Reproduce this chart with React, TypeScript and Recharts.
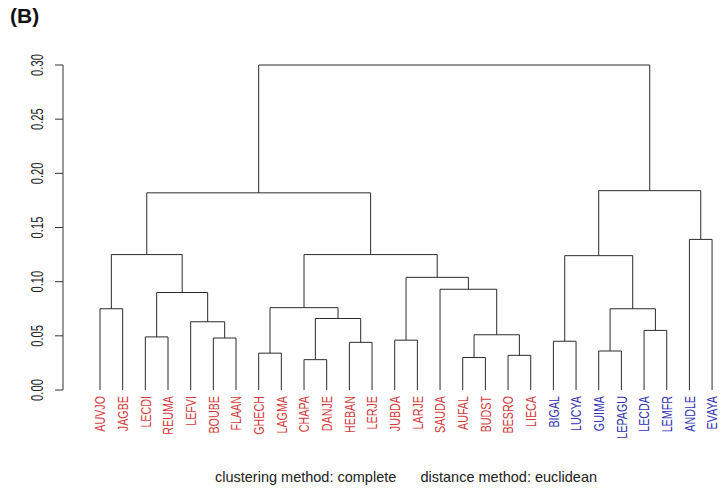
import { ComposedChart, Line, XAxis, YAxis } from 'recharts';

// leaves in dendrogram order
const leafLabels = [
  'AUVJO', 'JAGBE', 'LECDI', 'REUMA', 'LEFVI', 'BOUBE', 'FLAAN', 'GHECH', 'LAGMA', 'CHAPA',
  'DANJE', 'HEBAN', 'LERJE', 'JUBDA', 'LARJE', 'SAUDA', 'AUFAL', 'BUDST', 'BESRO', 'LIECA',
  'BIGAL', 'LUCYA', 'GUIMA', 'LEPAGU', 'LECDA', 'LEMFR', 'ANDLE', 'EVAYA',
];
const leafGroup = [
  1, 1, 1, 1, 1, 1, 1, 1, 1, 1, 1, 1, 1, 1, 1, 1, 1, 1, 1, 1,
  2, 2, 2, 2, 2, 2, 2, 2,
];
// hclust-style merge table: negative = leaf (1-based), positive = earlier merge (1-based)
const mergeLeft = [-1, -3, -6, -5, 2, 1, -8, -10, -12, 8, 7, -14, -17, -19, 13, -16, 12, 11, 6, -21, -23, -25, 21, 20, -27, 24, 19];
const mergeRight = [-2, -4, -7, 3, 4, 5, -9, -11, -13, 9, 10, -15, -18, -20, 14, 15, 16, 17, 18, -22, -24, -26, 22, 23, -28, 25, 26];
const mergeHeight = [
  0.075, 0.049, 0.048, 0.063, 0.09, 0.125, 0.034, 0.028, 0.044, 0.066, 0.076, 0.046, 0.03, 0.032,
  0.051, 0.093, 0.104, 0.125, 0.182, 0.045, 0.036, 0.055, 0.075, 0.124, 0.139, 0.184, 0.3,
];
const yTicks = [0, 0.05, 0.1, 0.15, 0.2, 0.25, 0.3];

const groupColor: Record<number, string> = { 1: '#d23a3a', 2: '#3030b0' };
const lineColor = '#2b2b2b';

type Pt = { x: number; y: number };

function buildSegments() {
  const mx: number[] = [];
  const segs: Pt[][] = [];
  const at = (i: number) => (i < 0 ? { x: -i, h: 0 } : { x: mx[i - 1], h: mergeHeight[i - 1] });
  mergeHeight.forEach((h, k) => {
    const a = at(mergeLeft[k]);
    const b = at(mergeRight[k]);
    mx.push((a.x + b.x) / 2);
    segs.push([
      { x: a.x, y: a.h },
      { x: a.x, y: h },
      { x: b.x, y: h },
      { x: b.x, y: b.h },
    ]);
  });
  return segs;
}

const segments = buildSegments();

// eslint-disable-next-line @typescript-eslint/no-explicit-any
const LeafTick = (props: any) => {
  const { x, payload } = props;
  const idx = payload.value - 1;
  return (
    <text
      transform={`translate(${x},396) rotate(-90) scale(0.74,1)`}
      textAnchor="end"
      dy="0.36em"
      fontSize={14.5}
      fontFamily="'Liberation Sans', Arial, sans-serif"
      fill={groupColor[leafGroup[idx]]}
    >
      {leafLabels[idx]}
    </text>
  );
};

// eslint-disable-next-line @typescript-eslint/no-explicit-any
const YTick = (props: any) => {
  const { x, y, payload } = props;
  return (
    <text
      transform={`translate(${x - 10},${y}) rotate(-90) scale(0.7,1)`}
      textAnchor="middle"
      fontSize={16}
      fontFamily="'Liberation Sans', Arial, sans-serif"
      fill="#222"
    >
      {Number(payload.value).toFixed(2)}
    </text>
  );
};

export default function App() {
  return (
    <div
      style={{
        position: 'absolute',
        left: 0,
        top: 0,
        width: 728,
        height: 492,
        background: '#fff',
        fontFamily: "'Liberation Sans', Arial, sans-serif",
      }}
    >
      <ComposedChart width={728} height={492} margin={{ top: 65, right: 3, bottom: 0, left: 0 }}>
        <XAxis
          type="number"
          dataKey="x"
          domain={[-0.632, 28.57]}
          ticks={leafLabels.map((_, i) => i + 1)}
          interval={0}
          allowDataOverflow
          axisLine={false}
          tickLine={false}
          height={102}
          tick={<LeafTick />}
        />
        <YAxis
          type="number"
          domain={[0, 0.3]}
          ticks={yTicks}
          width={63}
          axisLine={{ stroke: '#333' }}
          tickLine={{ stroke: '#333' }}
          tickSize={8}
          tick={<YTick />}
        />
        {segments.map((seg, i) => (
          <Line
            key={i}
            data={seg}
            dataKey="y"
            type="linear"
            stroke={lineColor}
            strokeWidth={1}
            dot={false}
            activeDot={false}
            isAnimationActive={false}
          />
        ))}
      </ComposedChart>
      <div
        style={{
          position: 'absolute',
          left: 10,
          top: 4,
          fontSize: 21,
          fontWeight: 'bold',
          color: '#111',
        }}
      >
        (B)
      </div>
      <div
        style={{
          position: 'absolute',
          left: 0,
          width: 812,
          top: 469,
          textAlign: 'center',
          fontSize: 14.5,
          color: '#222',
          whiteSpace: 'pre',
        }}
      >
        {'clustering method: complete      distance method: euclidean'}
      </div>
    </div>
  );
}
